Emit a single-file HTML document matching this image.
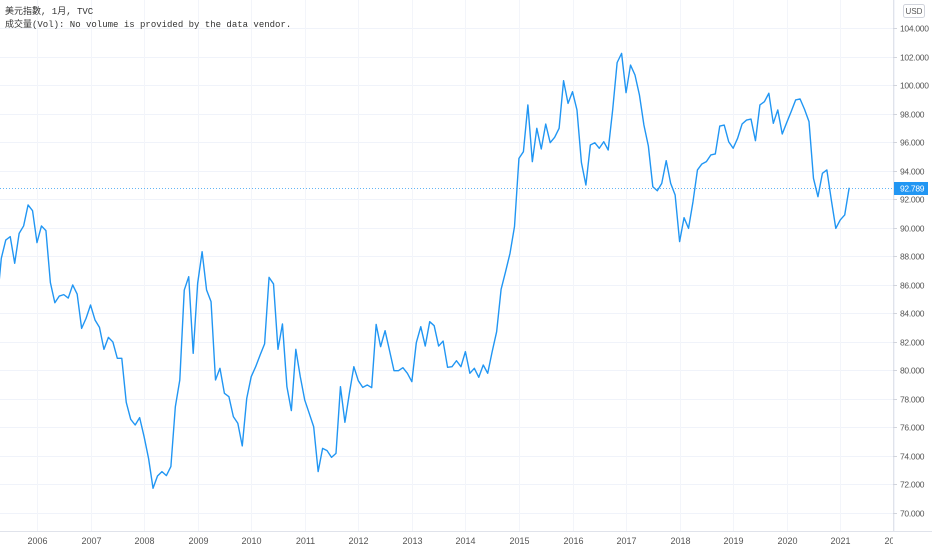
<!DOCTYPE html>
<html><head><meta charset="utf-8"><style>
html,body{margin:0;padding:0;background:#fff;}
svg{display:block;}
.t{font-family:"Liberation Sans","Noto Sans CJK TC",sans-serif;font-size:9px;fill:#555;}
.ty{font-family:"Liberation Sans",sans-serif;font-size:8.5px;fill:#555;letter-spacing:-0.3px;}
.m{font-family:"Liberation Mono","Noto Sans CJK TC",monospace;font-size:9px;fill:#333;}
</style></head><body>
<svg id="chart" width="932" height="550" viewBox="0 0 932 550" xmlns="http://www.w3.org/2000/svg">
<defs><clipPath id="xclip"><rect x="0" y="531" width="893" height="19"/></clipPath></defs>
<g id="grid"></g>
<g id="series"></g>
<line x1="893.5" y1="0" x2="893.5" y2="531" stroke="#e0e3eb"/>
<line x1="0" y1="531.5" x2="932" y2="531.5" stroke="#e0e3eb"/>
<g id="yaxis"></g>
<g id="xaxis" clip-path="url(#xclip)"></g>
<text class="m" x="5" y="14">美元指數, 1月, TVC</text>
<text class="m" x="5" y="27">成交量(Vol): No volume is provided by the data vendor.</text>
<g>
<rect x="903.5" y="4.5" width="21" height="13" rx="2" fill="#fff" stroke="#d1d4dc"/>
<text class="t" x="914" y="14" text-anchor="middle" style="font-size:8px">USD</text>
</g>
</svg>
<script>
const startYear = 2005;
const startMonth = 3; // April (0-based)
const values = [84.5,
87.84,89.12,89.36,87.49,89.59,90.11,91.58,91.18,88.94,90.11,
89.78,86.13,84.72,85.19,85.29,85.05,85.97,85.33,82.92,83.63,
84.56,83.51,82.99,81.45,82.29,81.97,80.82,80.82,77.73,76.54,
76.14,76.66,75.32,73.80,71.70,72.56,72.87,72.59,73.22,77.42,
79.30,85.61,86.55,81.17,86.08,88.30,85.61,84.80,79.30,80.12,
78.36,78.13,76.73,76.26,74.67,78.01,79.53,80.23,81.05,81.83,
86.50,86.04,81.45,83.23,78.83,77.15,81.45,79.53,
77.89,76.96,76.02,72.87,74.50,74.34,73.87,74.15,78.83,76.33,
78.36,80.23,79.25,78.78,78.95,78.76,83.20,81.64,82.76,81.36,
79.95,79.95,80.16,79.77,79.18,81.92,83.04,81.68,83.39,83.11,
81.68,82.03,80.19,80.23,80.65,80.23,81.29,79.77,80.12,79.49,
80.35,79.77,81.29,82.69,85.66,86.90,
88.19,90.06,
94.85,95.32,98.60,94.62,96.96,95.51,97.26,95.95,96.33,96.96,
100.30,98.71,99.53,98.25,94.55,92.98,95.79,95.95,95.56,96.02,
95.44,98.25,101.57,102.22,99.46,101.40,100.70,99.30,97.19,95.72,
92.86,92.58,93.10,
94.69,93.10,92.28,89.01,90.69,89.94,
91.81,94.04,94.46,94.62,95.09,95.16,97.12,97.19,96.02,95.56,
96.26,97.26,97.54,97.61,96.09,98.60,98.83,99.42,97.31,98.25,
96.56,97.36,98.13,98.95,99.02,98.29,97.43,93.45,92.16,93.80,
94.04,91.93,89.94,90.53,90.88,92.789];
const yTicks = [70,72,74,76,78,80,82,84,86,88,90,92,94,96,98,100,102,104];
const xTickYears = [2006,2007,2008,2009,2010,2011,2012,2013,2014,2015,2016,2017,2018,2019,2020,2021,2022];
const lastLabel = "92.789";

const NS = "http://www.w3.org/2000/svg";
function yScale(v){ return 28 + (104 - v) * 14.25; }
function xYear(yr){ return 37 + (yr - 2006) * 53.55; }
function xIndex(i){ const m = startMonth + i; return xYear(startYear + m / 12); }
function mk(tag, attrs, parent){ const e = document.createElementNS(NS, tag); for (const k in attrs) e.setAttribute(k, attrs[k]); parent.appendChild(e); return e; }

const grid = document.getElementById('grid');
const yaxis = document.getElementById('yaxis');
const xaxis = document.getElementById('xaxis');
yTicks.forEach(v => {
  const y = Math.round(yScale(v)) + 0.5;
  const g = mk('line', {x1:0, x2:893, y1:y, y2:y, stroke:'#f0f3fa'}, grid);
  
  
  const tk = mk('line', {x1:893, x2:897, y1:y, y2:y, stroke:'#d1d4dc'}, yaxis);
  
  
  const t = mk('text', {x:900, y:y+3, class:'ty'}, yaxis);
  t.textContent = v.toFixed(3);
  
  
});
xTickYears.forEach(yr => {
  const x = Math.round(xYear(yr)) + 0.5;
  const g = mk('line', {x1:x, x2:x, y1:0, y2:531, stroke:'#f3f5fa'}, grid);
  
  
  const t = mk('text', {x:x, y:544, class:'t', 'text-anchor':'middle'}, xaxis);
  t.textContent = yr;
  
  
});

const series = document.getElementById('series');
const pts = values.map((v,i) => xIndex(i).toFixed(2) + ',' + yScale(v).toFixed(2)).join(' ');
const line = mk('polyline', {points:pts, fill:'none', stroke:'#2196f3', 'stroke-width':1.4, 'stroke-linejoin':'round'}, series);



const lastV = values[values.length-1];
const ly = Math.round(yScale(lastV)) + 0.5;
const pl = mk('line', {x1:0, x2:893, y1:ly, y2:ly, stroke:'#2196f3', 'stroke-width':1, 'stroke-dasharray':'1 2', opacity:0.7}, series);


const lb = mk('rect', {x:894, y:ly-6.5, width:34, height:13, fill:'#2196f3'}, yaxis);


const lt = mk('text', {x:900, y:ly+3, class:'ty', style:'fill:#fff'}, yaxis);
lt.textContent = lastLabel;


</script>
</body></html>
